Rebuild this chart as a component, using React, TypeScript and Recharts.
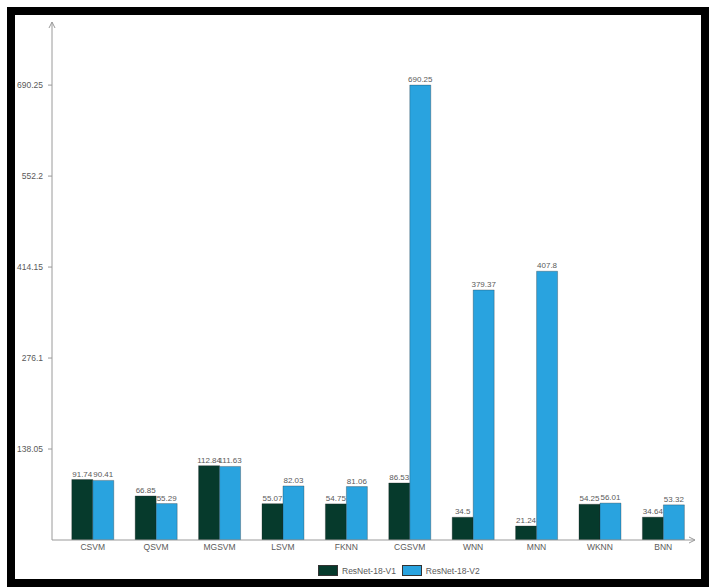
import React from 'react';
import { BarChart, Bar, XAxis, YAxis, LabelList } from 'recharts';

const categories = ['CSVM', 'QSVM', 'MGSVM', 'LSVM', 'FKNN', 'CGSVM', 'WNN', 'MNN', 'WKNN', 'BNN'];
const v1Values = [91.74, 66.85, 112.84, 55.07, 54.75, 86.53, 34.5, 21.24, 54.25, 34.64];
const v2Values = [90.41, 55.29, 111.63, 82.03, 81.06, 690.25, 379.37, 407.8, 56.01, 53.32];
const yTicks = [138.05, 276.1, 414.15, 552.2, 690.25];
const seriesNames = ['ResNet-18-V1', 'ResNet-18-V2'];
const seriesColors = ['#063a2c', '#29a3df'];

const data = categories.map((name, i) => ({ name, v1: v1Values[i], v2: v2Values[i] }));

const font = '"Liberation Sans", Arial, sans-serif';
const axisColor = '#9a9a9a';
const textColor = '#5a5a5a';

const App: React.FC = () => {
  return (
    <div style={{ position: 'absolute', left: 0, top: 0, width: 712, height: 587, background: '#fff', fontFamily: font }}>
      <BarChart
        width={712}
        height={587}
        data={data}
        margin={{ top: 22, right: 17, bottom: 27, left: 12 }}
        barCategoryGap="17%"
        barGap={0}
      >
        <defs>
          <marker
            id="axisArrow"
            viewBox="0 0 8 8"
            refX="7"
            refY="4"
            markerWidth="8"
            markerHeight="8"
            markerUnits="userSpaceOnUse"
            orient="auto-start-reverse"
          >
            <path d="M1,1 L7,4 L1,7" fill="none" stroke={axisColor} strokeWidth={1} />
          </marker>
        </defs>
        <XAxis
          dataKey="name"
          height={20}
          padding={{ left: 9, right: 0 }}
          axisLine={{ stroke: axisColor, strokeWidth: 1, markerEnd: 'url(#axisArrow)' }}
          tickLine={false}
          tickSize={4}
          tickMargin={0}
          tick={{ fill: textColor, fontSize: 8.5, fontFamily: font }}
          interval={0}
        />
        <YAxis
          width={40}
          domain={[0, 786]}
          ticks={yTicks}
          allowDataOverflow
          axisLine={{ stroke: axisColor, strokeWidth: 1, markerStart: 'url(#axisArrow)' }}
          tickLine={{ stroke: axisColor }}
          tickSize={4}
          tickMargin={5}
          tick={{ fill: textColor, fontSize: 8.5, fontFamily: font }}
          tickFormatter={(v: number) => String(v)}
        />
        <Bar dataKey="v1" name={seriesNames[0]} fill={seriesColors[0]} stroke="#222" strokeOpacity={0.5} strokeWidth={0.6} isAnimationActive={false}>
          <LabelList dataKey="v1" position="top" offset={3} fill={textColor} fontSize={8} fontFamily={font} />
        </Bar>
        <Bar dataKey="v2" name={seriesNames[1]} fill={seriesColors[1]} stroke="#222" strokeOpacity={0.5} strokeWidth={0.6} isAnimationActive={false}>
          <LabelList dataKey="v2" position="top" offset={3} fill={textColor} fontSize={8} fontFamily={font} />
        </Bar>
      </BarChart>

      <div style={{ position: 'absolute', left: 318, top: 565, display: 'flex', alignItems: 'center', fontSize: 8.5, color: textColor }}>
        {seriesNames.map((n, i) => (
          <div key={n} style={{ display: 'flex', alignItems: 'center', marginRight: 6 }}>
            <div style={{ width: 18, height: 9, background: seriesColors[i], border: '0.5px solid #333', marginRight: 4 }} />
            <span>{n}</span>
          </div>
        ))}
      </div>

      <div
        style={{
          position: 'absolute',
          left: 7,
          top: 7,
          width: 702,
          height: 580,
          border: '8px solid #000',
          boxSizing: 'border-box',
          pointerEvents: 'none',
        }}
      />
    </div>
  );
};

export default App;
